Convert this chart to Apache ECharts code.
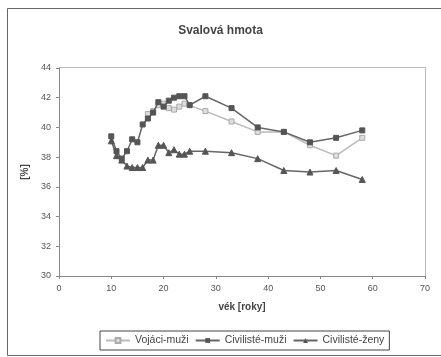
<!DOCTYPE html>
<html><head><meta charset="utf-8">
<script src="https://cdn.jsdelivr.net/npm/echarts@6/dist/echarts.min.js"></script>
<style>html,body{margin:0;padding:0;background:#fff}#c{width:441px;height:357px}</style>
</head><body><div id="c"></div>
<script>
var title = 'Svalová hmota';
var xName = 'vék [roky]';
var yName = '[%]';
var seriesNames = ['Vojáci-muži', 'Civilisté-muži', 'Civilisté-ženy'];

var vojaciX = [17, 18, 19, 20, 21, 22, 23, 24, 28, 33, 38, 43, 48, 53, 58];
var vojaciY = [40.9, 41.1, 41.5, 41.6, 41.3, 41.2, 41.4, 41.6, 41.1, 40.4, 39.7, 39.7, 38.8, 38.1, 39.3];

var civMuziX = [10, 11, 12, 13, 14, 15, 16, 17, 18, 19, 20, 21, 22, 23, 24, 25, 28, 33, 38, 43, 48, 53, 58];
var civMuziY = [39.4, 38.4, 37.9, 38.4, 39.2, 39.0, 40.2, 40.6, 41.0, 41.7, 41.4, 41.8, 42.0, 42.1, 42.1, 41.5, 42.1, 41.3, 40.0, 39.7, 39.0, 39.3, 39.8];

var civZenyX = [10, 11, 12, 13, 14, 15, 16, 17, 18, 19, 20, 21, 22, 23, 24, 25, 28, 33, 38, 43, 48, 53, 58];
var civZenyY = [39.1, 38.1, 37.8, 37.4, 37.3, 37.3, 37.3, 37.8, 37.8, 38.8, 38.8, 38.3, 38.5, 38.2, 38.2, 38.4, 38.4, 38.3, 37.9, 37.1, 37.0, 37.1, 36.5];

function pairs(xs, ys){ return xs.map(function(x,i){ return [x, ys[i]]; }); }

var chart = echarts.init(document.getElementById('c'), null, {renderer:'canvas'});
var axisLabelStyle = {color:'#555', fontSize:9, fontFamily:'Liberation Sans, Arial, sans-serif'};
chart.setOption({
  animation:false,
  backgroundColor:'#fff',
  title:{text:title, left:'center', top:20, textStyle:{fontSize:12, fontWeight:'bold', color:'#444', fontFamily:'Liberation Sans, Arial, sans-serif'}},
  graphic:[
    {type:'rect', shape:{x:7.5, y:8.5, width:440, height:347}, style:{fill:'none', stroke:'#666', lineWidth:1}, z:-1},
    {type:'rect', shape:{x:59.5, y:67.5, width:366, height:209}, style:{fill:'none', stroke:'#bbb', lineWidth:1}, z:-1}
  ],
  grid:{left:59, right:16, top:68, bottom:81, containLabel:false},
  legend:{
    data:seriesNames, bottom:7, left:100,
    itemWidth:24, itemHeight:6, itemGap:6,
    textStyle:{fontSize:10.5, color:'#444', fontFamily:'Liberation Sans, Arial, sans-serif'},
    borderColor:'#444', borderWidth:1, padding:[4,5], borderRadius:0
  },
  xAxis:{type:'value', min:0, max:70, interval:10,
    name:xName, nameLocation:'middle', nameGap:26,
    nameTextStyle:{fontSize:10, fontWeight:'bold', color:'#444', fontFamily:'Liberation Sans, Arial, sans-serif'},
    axisLine:{lineStyle:{color:'#888'}}, axisTick:{lineStyle:{color:'#888'}, length:3},
    axisLabel:axisLabelStyle, splitLine:{show:false}},
  yAxis:{type:'value', min:30, max:44, interval:2,
    name:yName, nameLocation:'middle', nameGap:21, nameRotate:90,
    nameTextStyle:{fontSize:10, fontWeight:'bold', color:'#444', fontFamily:'Liberation Sans, Arial, sans-serif'},
    axisLine:{show:true, lineStyle:{color:'#888'}}, axisTick:{show:true, lineStyle:{color:'#888'}, length:3},
    axisLabel:axisLabelStyle, splitLine:{show:false}},
  series:[
    {name:seriesNames[0], type:'line', data:pairs(vojaciX, vojaciY), symbol:'rect', symbolSize:5,
      lineStyle:{color:'#bbb', width:1.5}, itemStyle:{color:'#ddd', borderColor:'#aaa', borderWidth:1}, z:3},
    {name:seriesNames[1], type:'line', data:pairs(civMuziX, civMuziY), symbol:'rect', symbolSize:5,
      lineStyle:{color:'#666', width:1.5}, itemStyle:{color:'#555', borderColor:'#555'}, z:4},
    {name:seriesNames[2], type:'line', data:pairs(civZenyX, civZenyY), symbol:'triangle', symbolSize:6,
      lineStyle:{color:'#666', width:1.5}, itemStyle:{color:'#555', borderColor:'#555'}, z:4}
  ]
});
</script></body></html>
